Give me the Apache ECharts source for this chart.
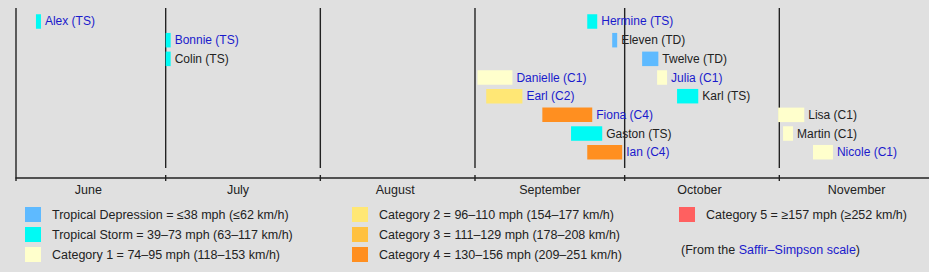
<!DOCTYPE html>
<html>
<head>
<meta charset="utf-8">
<script src="https://cdn.jsdelivr.net/npm/echarts@6/dist/echarts.min.js"></script>
<style>
html,body{margin:0;padding:0;background:#e0e0e0;}
#chart{width:929px;height:272px;}
</style>
</head>
<body>
<div id="chart"></div>
<script>
// ---- data ----
const categories = ['TD', 'TS', 'C1', 'C2', 'C3', 'C4', 'C5'];
const legendLabels = [
  'Tropical Depression = ≤38 mph (≤62 km/h)',
  'Tropical Storm = 39–73 mph (63–117 km/h)',
  'Category 1 = 74–95 mph (118–153 km/h)',
  'Category 2 = 96–110 mph (154–177 km/h)',
  'Category 3 = 111–129 mph (178–208 km/h)',
  'Category 4 = 130–156 mph (209–251 km/h)',
  'Category 5 = ≥157 mph (≥252 km/h)'
];
const stormNames = ['Alex', 'Bonnie', 'Colin', 'Danielle', 'Earl', 'Fiona', 'Gaston', 'Ian',
                    'Hermine', 'Eleven', 'Twelve', 'Julia', 'Karl', 'Lisa', 'Martin', 'Nicole'];
const stormCats = ['TS', 'TS', 'TS', 'C1', 'C2', 'C4', 'TS', 'C4',
                   'TS', 'TD', 'TD', 'C1', 'TS', 'C1', 'C1', 'C1'];
const stormRows = [0, 1, 2, 3, 4, 5, 6, 7, 0, 1, 2, 3, 4, 5, 6, 7];
const stormStart = ['2022-06-05', '2022-07-01', '2022-07-01', '2022-09-01 12:00', '2022-09-03 06:00',
                    '2022-09-14 12:00', '2022-09-20 06:00', '2022-09-23 12:00', '2022-09-23 12:00',
                    '2022-09-28 12:00', '2022-10-04 12:00', '2022-10-07 12:00', '2022-10-11 12:00',
                    '2022-10-31 18:00', '2022-11-01 18:00', '2022-11-07 18:00'];
const stormEnd = ['2022-06-06', '2022-07-02', '2022-07-02', '2022-09-08 12:00', '2022-09-10 12:00',
                  '2022-09-24 12:00', '2022-09-26 12:00', '2022-09-30 12:00', '2022-09-25 12:00',
                  '2022-09-29 12:00', '2022-10-07 18:00', '2022-10-09 12:00', '2022-10-15 18:00',
                  '2022-11-06', '2022-11-03 18:00', '2022-11-11 18:00'];
const stormLinked = [true, true, false, true, true, true, false, true,
                     true, false, false, true, false, false, false, true];
const monthStarts = ['2022-06-01', '2022-07-01', '2022-08-01', '2022-09-01', '2022-10-01', '2022-11-01'];
const monthLabels = ['June', 'July', 'August', 'September', 'October', 'November'];
const monthLabelAt = ['2022-06-15 12:00', '2022-07-15 12:00', '2022-08-16', '2022-09-16', '2022-10-16', '2022-11-16 12:00'];
const axisMin = '2022-06-01';
const axisMax = '2022-12-01';

// ---- styles ----
const catColors = ['#5ebaff', '#00faf4', '#ffffcc', '#ffe775', '#ffc140', '#ff8f20', '#ff6060'];
const FONT = "'Liberation Sans', Arial, Helvetica, sans-serif";
const LINK = '#1a1acc';
const TXT = '#222';

function t(s) {
  const parts = s.split(' ');
  const d = parts[0].split('-').map(Number);
  const hm = (parts[1] || '00:00').split(':').map(Number);
  return new Date(d[0], d[1] - 1, d[2], hm[0], hm[1]).getTime();
}

const BAR_H = 14.5;

function barRender(params, api) {
  const s = api.coord([api.value(0), api.value(2)]);
  const e = api.coord([api.value(1), api.value(2)]);
  const idx = api.value(3);
  const label = stormNames[idx] + ' (' + stormCats[idx] + ')';
  return {
    type: 'group',
    children: [
      { type: 'rect', shape: { x: s[0], y: s[1] - BAR_H / 2, width: e[0] - s[0], height: BAR_H },
        style: { fill: api.visual('color') } },
      { type: 'text', style: { x: e[0] + 4, y: s[1], text: label, fill: stormLinked[idx] ? LINK : TXT,
        fontSize: 12, fontFamily: FONT, align: 'left', verticalAlign: 'middle' } }
    ]
  };
}

const barSeries = categories.map(function (c, ci) {
  const data = [];
  stormNames.forEach(function (n, i) {
    if (stormCats[i] === c) data.push([t(stormStart[i]), t(stormEnd[i]), stormRows[i], i]);
  });
  return {
    type: 'custom', name: legendLabels[ci], itemStyle: { color: catColors[ci] },
    renderItem: barRender, data: data, encode: { x: [0, 1], y: 2 }, clip: false, z: 3
  };
});

const lineSeries = {
  type: 'custom', silent: true, clip: false, z: 2,
  data: monthStarts.map(function (m, i) { return [t(m), i]; }),
  renderItem: function (params, api) {
    const cs = params.coordSys;
    const x = api.coord([api.value(0), 0])[0];
    const i = api.value(1);
    const bottom = cs.y + cs.height;
    const ls = { stroke: '#222', lineWidth: 1.4 };
    if (i === 0) {
      return { type: 'line', shape: { x1: x, y1: cs.y, x2: x, y2: bottom + 3 }, style: ls };
    }
    return { type: 'group', children: [
      { type: 'line', shape: { x1: x, y1: cs.y, x2: x, y2: bottom - 10 }, style: ls },
      { type: 'line', shape: { x1: x, y1: bottom - 3, x2: x, y2: bottom + 3 }, style: ls }
    ] };
  }
};

const monthLabelSeries = {
  type: 'custom', silent: true, clip: false, z: 2,
  data: monthLabelAt.map(function (m, i) { return [t(m), i]; }),
  renderItem: function (params, api) {
    const cs = params.coordSys;
    const x = api.coord([api.value(0), 0])[0];
    return { type: 'text', style: { x: x, y: cs.y + cs.height + 12, text: monthLabels[api.value(1)],
      fill: TXT, fontSize: 12.5, fontFamily: FONT, align: 'center', verticalAlign: 'middle' } };
  }
};

const legendBase = {
  orient: 'vertical', padding: 0, itemWidth: 16, itemHeight: 15, itemGap: 5,
  icon: 'rect', selectedMode: false,
  textStyle: { fontSize: 12.5, fontFamily: FONT, color: TXT, padding: [0, 0, 0, 6] }
};

const chart = echarts.init(document.getElementById('chart'), null, { renderer: 'svg' });
chart.setOption({
  backgroundColor: '#e0e0e0',
  animation: false,
  grid: { left: 16, right: -2, top: 8, bottom: 94 },
  xAxis: {
    type: 'time', min: t(axisMin), max: t(axisMax), position: 'bottom',
    axisLine: { show: true, onZero: false, lineStyle: { color: '#222', width: 1.6 } },
    axisTick: { show: false }, axisLabel: { show: false }, splitLine: { show: false }
  },
  yAxis: { type: 'value', inverse: true, min: -0.723, max: 8.382, show: false },
  legend: [
    Object.assign({}, legendBase, { left: 25, top: 207, data: legendLabels.slice(0, 3) }),
    Object.assign({}, legendBase, { left: 352, top: 207, data: legendLabels.slice(3, 6) }),
    Object.assign({}, legendBase, { left: 679, top: 207, data: legendLabels.slice(6, 7) })
  ],
  graphic: [{
    type: 'text', left: 681, top: 243,
    style: {
      text: '{a|(From the }{b|Saffir–Simpson scale}{a|)}',
      rich: {
        a: { fill: TXT, fontSize: 12.5, fontFamily: FONT },
        b: { fill: LINK, fontSize: 12.5, fontFamily: FONT }
      }
    }
  }],
  series: [lineSeries, monthLabelSeries].concat(barSeries)
});
</script>
</body>
</html>
